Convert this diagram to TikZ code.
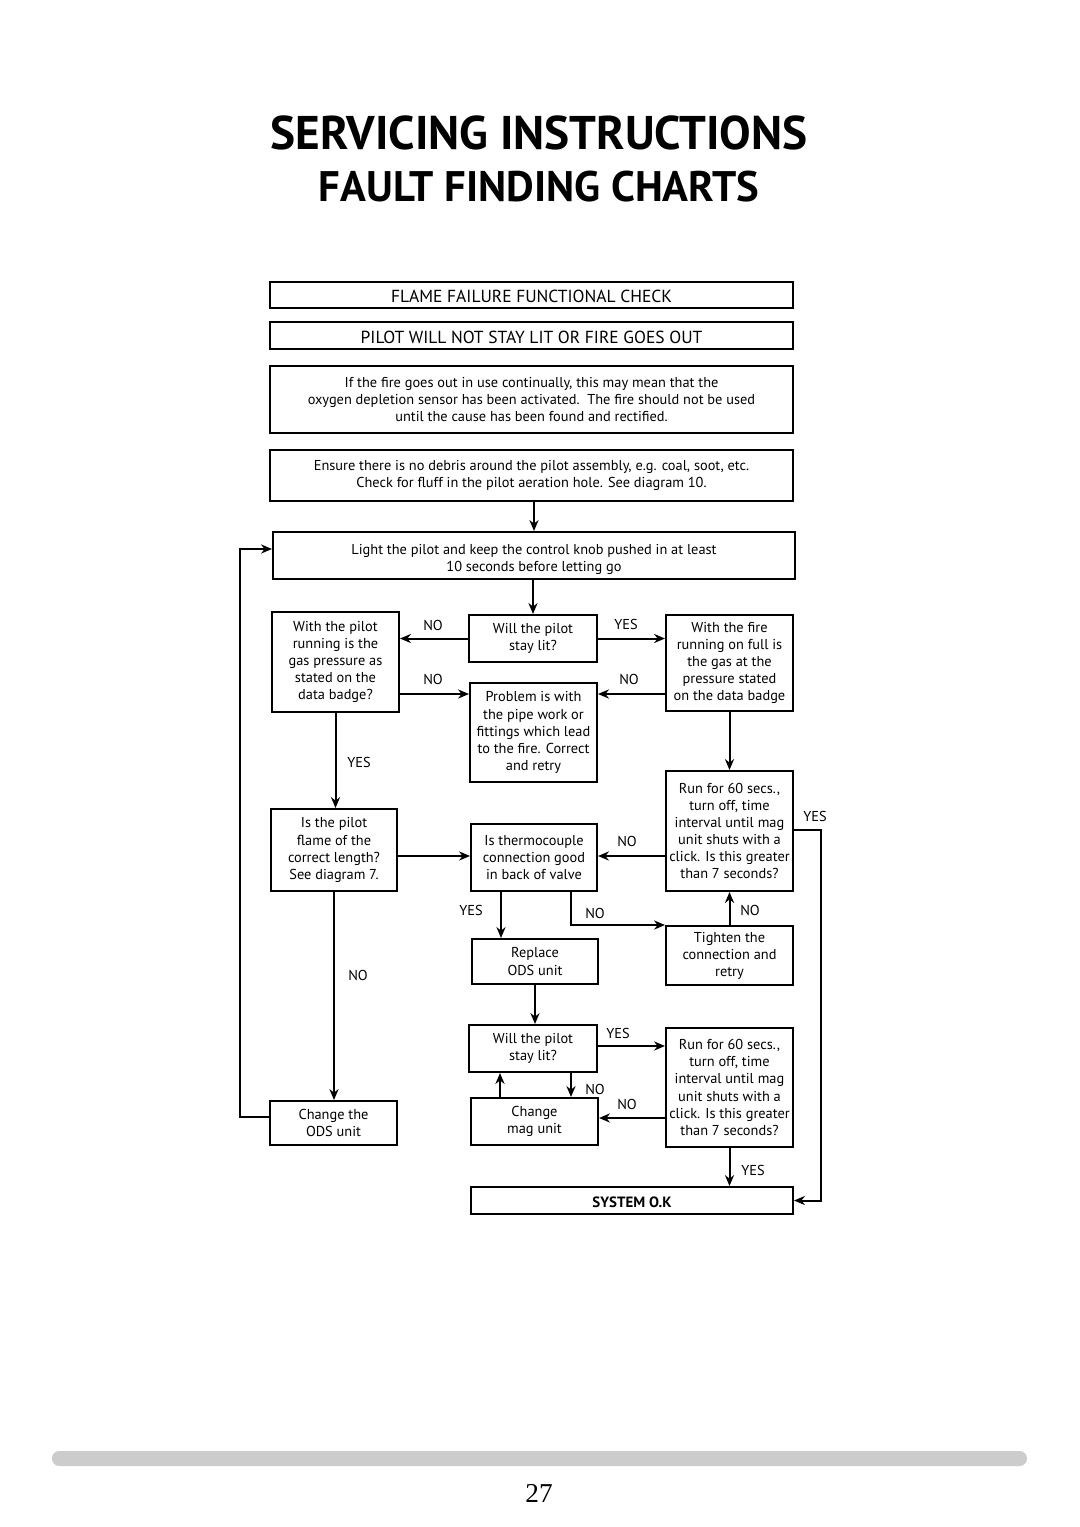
\documentclass[tikz,border=0pt]{standalone}
\usepackage{fontspec}
\setmainfont{PT Sans}
\newfontfamily\numfont{Liberation Serif}
\usetikzlibrary{arrows.meta}

\newcommand\lowr[2][2.2pt]{\raisebox{-#1}[\height][\depth]{#2}}

\tikzset{
	fbox/.style={draw, line width=1.1pt, align=center, inner sep=1pt, font=\fontsize{7.9}{9.4}\selectfont},
	hbox/.style={fbox, font=\fontsize{9.6}{11}\selectfont},
	sz/.style 2 args={minimum width=#1*0.55pt, minimum height=#2*0.55pt},
	lbl/.style={font=\fontsize{7.9}{9.4}\selectfont},
	arr/.style={line width=1.1pt, -{Stealth[length=6pt,width=5pt]}},
	wire/.style={line width=1.1pt}
}

\begin{document}
\begin{tikzpicture}[x=0.55pt, y=-0.55pt]
\useasboundingbox (0,0) rectangle (1080,1527);

\node[font=\bfseries\fontsize{26}{30}\selectfont] (title) at (539,133) {SERVICING INSTRUCTIONS};
\node[font=\fontsize{23.5}{28}\selectfont\bfseries] (subtitle) at (539,187) {FAULT FINDING CHARTS};

% top boxes
\node[hbox, sz={523}{26}] (hdra) at (531.5,295) {\lowr[0.9pt]{FLAME FAILURE FUNCTIONAL CHECK}};
\node[hbox, sz={523}{27}] (hdrb) at (531.5,335.5) {\lowr[0.9pt]{PILOT WILL NOT STAY LIT OR FIRE GOES OUT}};
\node[fbox, sz={523}{67}] (note) at (531.5,399.5) {If the fire goes out in use continually, this may mean that the\\ oxygen depletion sensor has been activated.\ \ The fire should not be used\\ until the cause has been found and rectified.};
\node[fbox, sz={523}{51}] (debris) at (531.5,475.5) {Ensure there is no debris around the pilot assembly, e.g. coal, soot, etc.\\ Check for fluff in the pilot aeration hole. See diagram 10.};
\node[fbox, sz={522}{47}] (light) at (534,555.5) {\lowr{Light the pilot and keep the control knob pushed in at least}\\ \lowr{10 seconds before letting go}};

% first row
\node[fbox, sz={127}{100}] (pres) at (335.5,662) {With the pilot\\ running is the\\ gas pressure as\\ stated on the\\ data badge?};
\node[fbox, sz={128}{47}] (stay) at (533,638.5) {Will the pilot\\ stay lit?};
\node[fbox, sz={127}{96}] (full) at (729.5,663) {With the fire\\ running on full is\\ the gas at the\\ pressure stated\\ on the data badge};
\node[fbox, sz={127}{99}] (pipe) at (533.5,732.5) {Problem is with\\ the pipe work or\\ fittings which lead\\ to the fire. Correct\\ and retry};

% second row
\node[fbox, sz={126}{82}] (flame) at (334,850) {Is the pilot\\ flame of the\\ correct length?\\ See diagram 7.};
\node[fbox, sz={126}{67}] (thermo) at (534,857.5) {Is thermocouple\\ connection good\\ in back of valve};
\node[fbox, sz={127}{120}] (run) at (729.5,831) {Run for 60 secs.,\\ turn off, time\\ interval until mag\\ unit shuts with a\\ click. Is this greater\\ than 7 seconds?};
\node[fbox, sz={127}{59}] (tighten) at (729.5,955.5) {Tighten the\\ connection and\\ retry};
\node[fbox, sz={126}{45}] (replace) at (535,961.5) {Replace\\ ODS unit};

% bottom
\node[fbox, sz={128}{47}] (stayb) at (533,1048.5) {Will the pilot\\ stay lit?};
\node[fbox, sz={127}{119}] (runb) at (729.5,1087.5) {Run for 60 secs.,\\ turn off, time\\ interval until mag\\ unit shuts with a\\ click. Is this greater\\ than 7 seconds?};
\node[fbox, sz={127}{47}] (mag) at (534.5,1121.5) {Change\\ mag unit};
\node[fbox, sz={127}{44}] (ods) at (333.5,1123) {Change the\\ ODS unit};
\node[fbox, sz={322}{27}, font=\bfseries\fontsize{8.2}{9}\selectfont] (sysok) at (632,1200.5) {\lowr[1.2pt]{SYSTEM O.K}};

% connectors
\draw[arr] (light.north |- debris.south) -- (light.north);
\draw[arr] (stay.north |- light.south) -- (stay.north);
\draw[arr] (stay.west) -- (stay.west -| pres.east);
\draw[arr] (stay.east) -- (stay.east -| full.west);
\draw[arr] (pres.east |- 0,694) -- (pipe.west |- 0,694);
\draw[arr] (full.west |- 0,694) -- (pipe.east |- 0,694);
\draw[arr] (pres.south) -- (pres.south |- flame.north);
\draw[arr] (full.south) -- (run.north);
\draw[arr] (flame.east |- 0,856) -- (thermo.west |- 0,856);
\draw[arr] (run.west |- 0,856) -- (thermo.east |- 0,856);
\draw[arr] (run.east |- 0,830) -- ++(27,0) |- (sysok.east);
\draw[arr] (501,0 |- thermo.south) -- (501,0 |- replace.north);
\draw[arr] (571,0 |- thermo.south) |- (tighten.west |- 0,925);
\draw[arr] (tighten.north) -- (run.south);
\draw[arr] (replace.south) -- (replace.south |- stayb.north);
\draw[arr] (stayb.east |- 0,1046) -- (runb.west |- 0,1046);
\draw[arr] (571,0 |- stayb.south) -- (571,0 |- mag.north);
\draw[arr] (500,0 |- mag.north) -- (500,0 |- stayb.south);
\draw[arr] (runb.west |- 0,1118) -- (mag.east |- 0,1118);
\draw[arr] (runb.south) -- (runb.south |- sysok.north);
\draw[arr] (flame.south) -- (flame.south |- ods.north);
\draw[arr] (ods.west |- 0,1117) -- ++(-29,0) |- (light.west |- 0,549);

% labels
\node[lbl] (nostay) at (433,625) {NO};
\node[lbl] (yesstay) at (626,624) {YES};
\node[lbl] (nopres) at (433,679) {NO};
\node[lbl] (nofull) at (629,679) {NO};
\node[lbl] (yespres) at (359,762) {YES};
\node[lbl] (norun) at (627,841) {NO};
\node[lbl] (yesrun) at (815,816) {YES};
\node[lbl] (yesthermo) at (471,910) {YES};
\node[lbl] (nothermo) at (595,913) {NO};
\node[lbl] (notighten) at (750,910) {NO};
\node[lbl] (noflame) at (358,975) {NO};
\node[lbl] (yesstayb) at (618,1033) {YES};
\node[lbl] (nostayb) at (595,1089) {NO};
\node[lbl] (norunb) at (627,1104) {NO};
\node[lbl] (yesrunb) at (753,1170) {YES};

% footer
\fill[black!20, rounded corners=4pt] (52,1451) rectangle (1027,1466);
\node[font=\numfont\fontsize{15}{18}\selectfont] (page) at (539,1493) {27};

\end{tikzpicture}
\end{document}
